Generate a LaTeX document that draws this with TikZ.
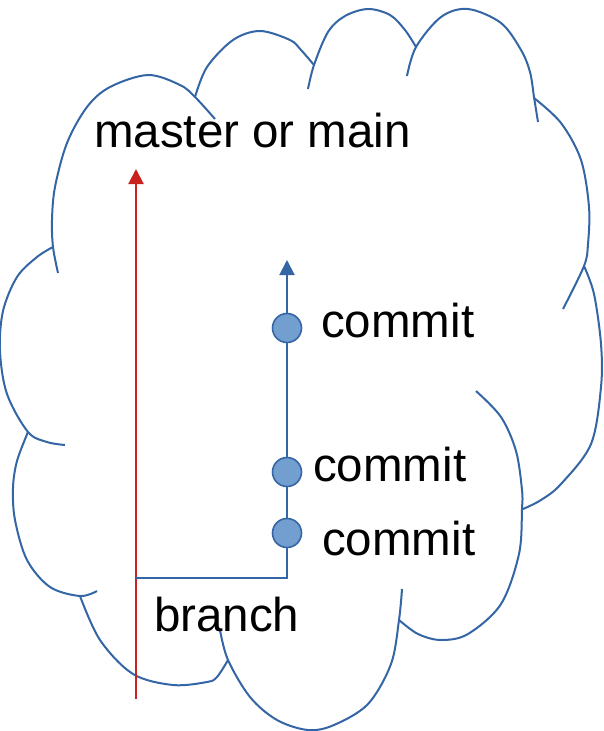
\documentclass[tikz,border=0pt]{standalone}
\usepackage{fontspec}
\setmainfont{Liberation Sans}
\usetikzlibrary{arrows.meta}
\definecolor{lineblue}{HTML}{3465A4}
\definecolor{dotblue}{HTML}{729FCF}
\definecolor{branchred}{HTML}{C9211E}
\begin{document}
\begin{tikzpicture}[x=1pt,y=-1pt,
  lobe/.style={draw=lineblue,line width=2pt,smooth,tension=0.55},
  label/.style={anchor=base west,inner sep=0pt,font=\fontsize{47.5}{57}\selectfont},
  commitdot/.style={circle,draw=lineblue,fill=dotblue,line width=1.6pt,minimum size=29pt,inner sep=0pt},
  bluewire/.style={draw=lineblue,line width=2pt},
  redwire/.style={draw=branchred,line width=2pt},
  tip/.style={-{Triangle[width=15pt,length=15pt]}}]
\useasboundingbox (0,0) rectangle (603,731);

% cloud outline, one arc per lobe
\draw[lobe] plot coordinates {(58,273) (53,247) (52,220) (55,187) (67,143) (87,107) (110,87) (148,75) (180,85) (195,97) (215,119)};
\draw[lobe] plot coordinates {(195,97) (207,67) (233,40) (260,31) (290,40) (301,50) (314,65)};
\draw[lobe] plot coordinates {(308,89) (314,65) (328,32) (345,16) (368,9) (390,15) (405,30) (416,47)};
\draw[lobe] plot coordinates {(407,76) (416,47) (441,17) (468,9) (501,23) (521,50) (530,72) (534,97) (538,122)};
\draw[lobe] plot coordinates {(534,98) (561,123) (581,160) (589,207) (588,244) (584,266) (563,309)};
\draw[lobe] plot coordinates {(584,266) (594,294) (601,344) (601,387) (591,444) (561,484) (541,500) (523,509)};
\draw[lobe] plot coordinates {(476,391) (501,417) (516,451) (522,490) (522,509) (519,554) (501,604) (468,634) (441,640) (418,634) (399,620)};
\draw[lobe] plot coordinates {(402,589) (399,620) (391,664) (368,704) (334,725) (308,730) (277,720) (250,697) (228,660) (220,630)};
\draw[lobe] plot coordinates {(80,596) (100,640) (133,674) (173,685) (207,682) (217,677) (228,660)};
\draw[lobe] plot coordinates {(28,432) (17,461) (13,488) (15,520) (27,560) (50,587) (80,596) (97,591)};
\draw[lobe] plot coordinates {(53,247) (37,257) (17,277) (3,311) (0,351) (7,394) (28,432) (47,442) (65,445)};

% main line
\coordinate (mainbot) at (136,699);
\coordinate (maintop) at (136,169);
\coordinate (fork) at (136,578);
\draw[redwire,tip,branchred] (mainbot) -- (maintop);

% branch with its commits
\node[commitdot] (c1) at (287,328) {};
\node[commitdot] (c2) at (287,472) {};
\node[commitdot] (c3) at (287,533) {};
\coordinate (branchtip) at (287,260);
\draw[bluewire,tip] (c1) -- (branchtip);
\draw[bluewire] (c1) -- (c2);
\draw[bluewire] (c2) -- (c3);
\draw[bluewire] (c3) |- (fork);

% labels
\node[label] (mainlbl) at (94,147) {master or main};
\node[label] (lbl1) at (321,337) {commit};
\node[label] (lbl2) at (313,481) {commit};
\node[label] (lbl3) at (322,555) {commit};
\node[label] (branchlbl) at (154,631) {branch};
\end{tikzpicture}
\end{document}
